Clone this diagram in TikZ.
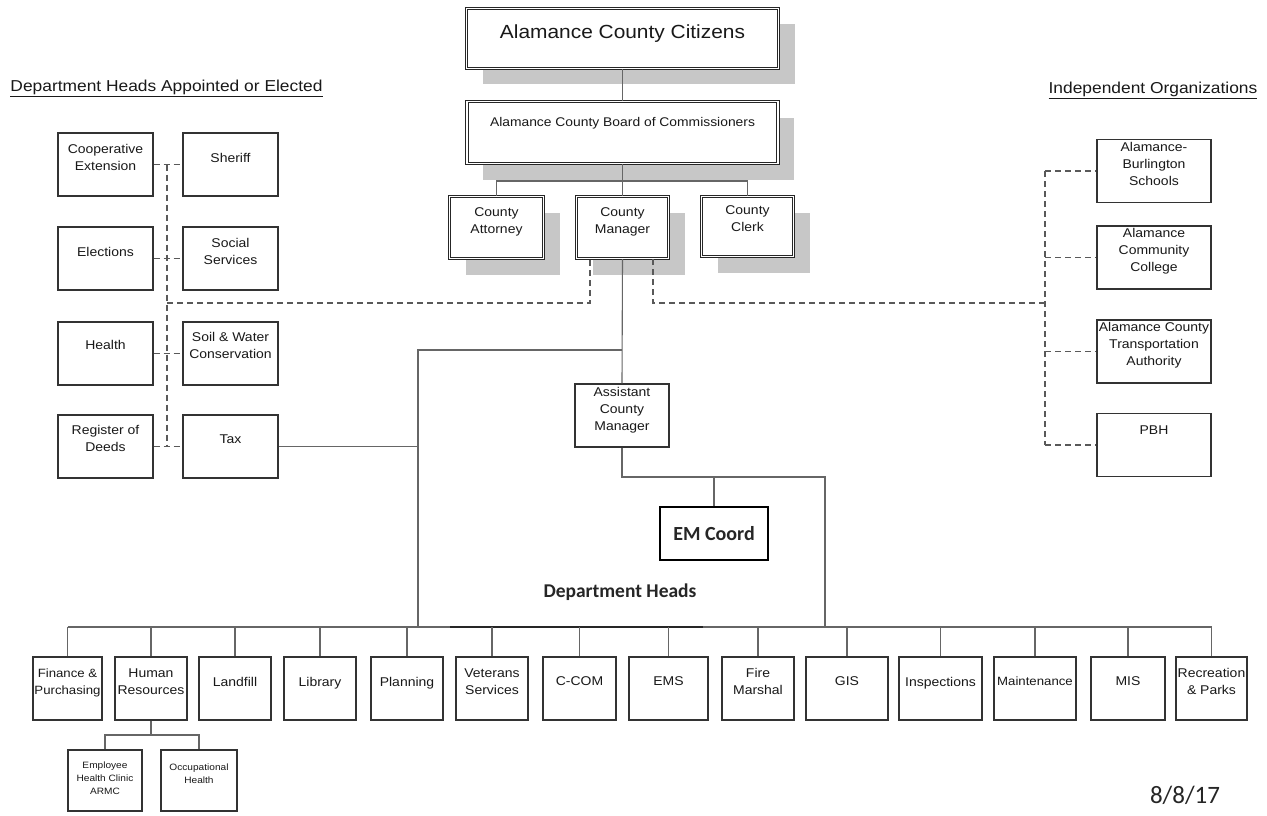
\documentclass[tikz,border=0pt]{standalone}
\usepackage{fontspec}
\setmainfont{Liberation Sans}[FakeStretch=1.1]
\newfontfamily\calibri{Carlito}
\usetikzlibrary{shadows}
\newcommand{\bxf}{\fontsize{12.7}{17}\selectfont}
\newcommand{\bxs}{\fontsize{12}{17}\selectfont}
\newcommand{\smf}{\fontsize{9.2}{13}\selectfont}
\begin{document}
\begin{tikzpicture}[x=1pt,y=-1pt,
  topbox/.style={draw=black!85, line width=1.05pt, double=white, double distance=1.2pt, fill=white,
     align=center, inner sep=1pt, text=black!90,
     drop shadow={shadow xshift=16pt, shadow yshift=-16pt, fill=black!22, opacity=1}},
  orgbox/.style={draw=black!80, line width=1.4pt, fill=white, align=center, inner sep=0.5pt,
     font=\bxf, text=black!90, text depth=14pt},
  botbox/.style={orgbox, minimum height=63pt},
  lbox/.style={orgbox, minimum width=95pt, minimum height=63pt},
  rbox/.style={orgbox, minimum width=114pt, minimum height=63pt, text depth=15pt},
  conn/.style={draw=black!60, line width=1.1pt},
  dconn/.style={draw=black!65, line width=1.1pt, dash pattern=on 6pt off 4pt},
  head/.style={font=\fontsize{15.8}{18}\selectfont, text=black!90, inner sep=0pt}]
\fill[white] (0,0) rectangle (1267,816);
\useasboundingbox (0,0) rectangle (1267,816);

% headings
\node[head] (hl) at (166.5,88) {\underline{Department Heads Appointed or Elected}};
\node[head] (hr) at (1153,90) {\underline{Independent Organizations}};

% top boxes
\node[topbox, minimum width=312pt, minimum height=60pt, font=\fontsize{19}{22}\selectfont, text depth=13pt] (cit) at (622.5,38.5) {Alamance County Citizens};
\node[topbox, minimum width=311pt, minimum height=62pt, font=\fontsize{12.6}{15}\selectfont, text depth=21pt] (board) at (622.5,132.5) {Alamance County Board of Commissioners};
\node[topbox, minimum width=94pt, minimum height=62pt, font=\bxf, text depth=13pt] (att) at (496.5,227.5) {County\\Attorney};
\node[topbox, minimum width=92pt, minimum height=62pt, font=\bxf, text depth=13pt] (mgr) at (622.5,227.5) {County\\Manager};
\node[topbox, minimum width=92pt, minimum height=60pt, font=\bxf, text depth=16pt] (clerk) at (747.5,226.5) {County\\Clerk};

% left boxes
\node[lbox] (coop) at (105.5,164.5) {Cooperative\\Extension};
\node[lbox] (sher) at (230.5,164.5) {Sheriff};
\node[lbox] (elec) at (105.5,258.5) {Elections};
\node[lbox] (soc) at (230.5,258.5) {Social\\Services};
\node[lbox, text depth=17pt] (heal) at (105.5,353.5) {Health};
\node[lbox, text depth=16pt] (soil) at (230.5,353.5) {Soil \& Water\\Conservation};
\node[lbox, text depth=16pt] (reg) at (105.5,446.5) {Register of\\Deeds};
\node[lbox] (tax) at (230.5,446.5) {Tax};

% right boxes
\node[rbox] (abss) at (1154,171) {Alamance-\\Burlington\\Schools};
\node[rbox] (acc) at (1154,257.5) {Alamance\\Community\\College};
\node[rbox, text depth=16pt] (acta) at (1154,351.5) {Alamance County\\Transportation\\Authority};
\node[rbox, text depth=30pt] (pbh) at (1154,445) {PBH};

% assistant manager and EM
\node[orgbox, minimum width=94pt, minimum height=63pt] (acm) at (622,415.5) {Assistant\\County\\Manager};
\node[draw=black, line width=1.5pt, minimum width=108pt, minimum height=53pt, fill=white,
  font=\calibri\bfseries\fontsize{20}{24}\selectfont, text=black!85] (em) at (714,533.5) {EM Coord};
\node[font=\calibri\bfseries\fontsize{19.5}{23}\selectfont, text=black!85] (dpth) at (620,592) {Department Heads};

% bottom boxes
\node[botbox, minimum width=69pt, font=\bxs] (fin) at (67.5,688.5) {Finance \&\\Purchasing};
\node[botbox, minimum width=72pt] (hres) at (151,688.5) {Human\\Resources};
\node[botbox, minimum width=72pt] (land) at (235,688.5) {Landfill};
\node[botbox, minimum width=72pt] (lib) at (320,688.5) {Library};
\node[botbox, minimum width=72pt] (plan) at (407,688.5) {Planning};
\node[botbox, minimum width=72pt] (vet) at (492,688.5) {Veterans\\Services};
\node[botbox, minimum width=73pt] (ccom) at (579.5,688.5) {C-COM};
\node[botbox, minimum width=79pt] (ems) at (668.5,688.5) {EMS};
\node[botbox, minimum width=72pt] (fire) at (758,688.5) {Fire\\Marshal};
\node[botbox, minimum width=82pt] (gis) at (847,688.5) {GIS};
\node[botbox, minimum width=83pt] (insp) at (940.5,688.5) {Inspections};
\node[botbox, minimum width=82pt, font=\bxs] (maint) at (1035,688.5) {Maintenance};
\node[botbox, minimum width=74pt] (mis) at (1128,688.5) {MIS};
\node[botbox, minimum width=71pt] (rec) at (1211.5,688.5) {Recreation\\\& Parks};

% HR sub boxes
\node[orgbox, font=\smf, minimum width=74pt, minimum height=61pt, text depth=5pt] (emp) at (105,780.5) {Employee\\Health Clinic\\ARMC};
\node[orgbox, font=\smf, minimum width=76pt, minimum height=61pt, text depth=14pt] (occ) at (199,780.5) {Occupational\\Health};

\node[font=\calibri\fontsize{25}{30}\selectfont, text=black!85] (date) at (1185,795) {8/8/17};

% solid connectors
\coordinate (tbar) at (622.5,181);
\draw[conn] (cit) -- (board);
\draw[conn] (board.south) -- (tbar);
\draw[conn] (att.north) |- (tbar) -| (clerk.north);
\draw[conn] (tbar) -- (mgr.north);
\draw[conn] (mgr.south) -- (acm.north);
\coordinate (jL) at (622,350);
\coordinate (busL) at (67.5,627);
\coordinate (busR) at (1211.5,627);
\coordinate (vL) at (418,627);
\coordinate (vR) at (825,627);
\draw[conn] (jL) -| (vL);
\draw[conn] (tax.east) -- (tax.east -| vL);
\coordinate (j2) at (622,477);
\draw[conn] (acm.south) -- (j2) -| (vR);
\draw[conn] (em.north) -- (em.north |- j2);
\draw[conn] (busL) -- (busR);
\coordinate (dkA) at (450,627);
\coordinate (dkB) at (703,627);
\draw[black!85, line width=1.5pt] (dkA) -- (dkB);
\foreach \n in {fin,hres,land,lib,plan,vet,ccom,ems,fire,gis,insp,maint,mis,rec}
  \draw[conn] (\n.north) -- (\n.north |- busL);
\coordinate (hrj) at (151,735);
\draw[conn] (hres.south) -- (hrj);
\draw[conn] (emp.north) |- (hrj) -| (occ.north);

% dashed connectors left
\coordinate (dlx) at (167,0);
\draw[dconn] (coop.east) -- (sher.west);
\draw[dconn] (elec.east) -- (soc.west);
\draw[dconn] (heal.east) -- (soil.west);
\draw[dconn] (reg.east) -- (tax.west);
\draw[dconn] (dlx |- coop.east) -- (dlx |- reg.east);
\coordinate (dh) at (167,303);
\draw[dconn] (dh) -| ([xshift=-32.5pt]mgr.south);
% dashed connectors right
\coordinate (drx) at (1045,0);
\draw[dconn] ([xshift=30.5pt]mgr.south) |- (drx |- dh);
\draw[dconn] (drx |- abss.west) -- (drx |- pbh.west);
\foreach \n in {abss,acc,acta,pbh}
  \draw[dconn] (drx |- \n.west) -- (\n.west);
\end{tikzpicture}
\end{document}
